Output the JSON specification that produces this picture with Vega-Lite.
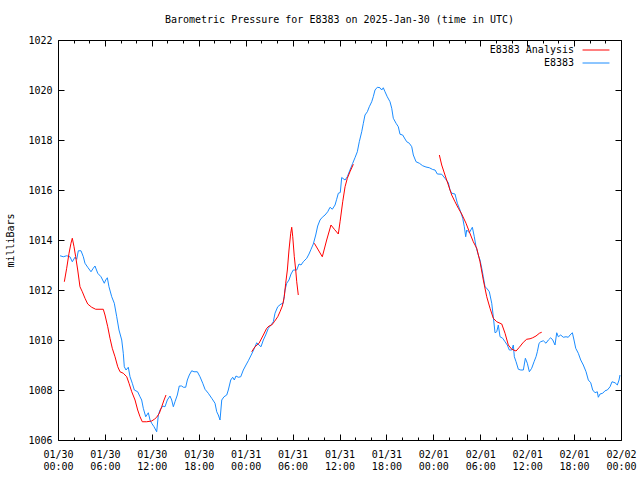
{
  "$schema": "https://vega.github.io/schema/vega-lite/v6.json",
  "width": 563,
  "height": 400,
  "autosize": "none",
  "padding": {"left": 58, "top": 40, "right": 19, "bottom": 40},
  "background": "white",
  "title": {"text": "Barometric Pressure for E8383 on 2025-Jan-30 (time in UTC)", "font": "DejaVu Sans Mono", "fontSize": 10, "fontWeight": "normal", "color": "black", "anchor": "middle", "offset": 10},
  "config": {
    "view": {"stroke": "black", "strokeWidth": 1},
    "axis": {"labelFont": "DejaVu Sans Mono", "labelFontSize": 10, "labelColor": "black", "tickColor": "black", "domain": false, "grid": false, "titleFont": "DejaVu Sans Mono", "titleFontSize": 10, "titleFontWeight": "normal", "titleColor": "black"},
    "legend": {"labelFont": "DejaVu Sans Mono", "labelFontSize": 10, "labelColor": "black"}
  },
  "data": {"values": [
    {"series":"E8383","segment":"b","hour":0.26,"mb":1013.37},
    {"series":"E8383","segment":"b","hour":0.68,"mb":1013.33},
    {"series":"E8383","segment":"b","hour":1.11,"mb":1013.37},
    {"series":"E8383","segment":"b","hour":1.53,"mb":1013.33},
    {"series":"E8383","segment":"b","hour":1.83,"mb":1013.13},
    {"series":"E8383","segment":"b","hour":2.17,"mb":1013.31},
    {"series":"E8383","segment":"b","hour":2.39,"mb":1013.23},
    {"series":"E8383","segment":"b","hour":2.60,"mb":1013.57},
    {"series":"E8383","segment":"b","hour":2.94,"mb":1013.57},
    {"series":"E8383","segment":"b","hour":3.24,"mb":1013.33},
    {"series":"E8383","segment":"b","hour":3.45,"mb":1013.07},
    {"series":"E8383","segment":"b","hour":3.80,"mb":1012.91},
    {"series":"E8383","segment":"b","hour":4.22,"mb":1012.73},
    {"series":"E8383","segment":"b","hour":4.51,"mb":1012.87},
    {"series":"E8383","segment":"b","hour":4.73,"mb":1012.96},
    {"series":"E8383","segment":"b","hour":5.08,"mb":1012.67},
    {"series":"E8383","segment":"b","hour":5.50,"mb":1012.53},
    {"series":"E8383","segment":"b","hour":5.92,"mb":1012.27},
    {"series":"E8383","segment":"b","hour":6.10,"mb":1012.40},
    {"series":"E8383","segment":"b","hour":6.31,"mb":1012.49},
    {"series":"E8383","segment":"b","hour":6.52,"mb":1012.13},
    {"series":"E8383","segment":"b","hour":6.87,"mb":1011.73},
    {"series":"E8383","segment":"b","hour":7.20,"mb":1011.47},
    {"series":"E8383","segment":"b","hour":7.51,"mb":1010.93},
    {"series":"E8383","segment":"b","hour":7.80,"mb":1010.40},
    {"series":"E8383","segment":"b","hour":8.15,"mb":1010.00},
    {"series":"E8383","segment":"b","hour":8.35,"mb":1009.47},
    {"series":"E8383","segment":"b","hour":8.48,"mb":1008.93},
    {"series":"E8383","segment":"b","hour":8.70,"mb":1008.80},
    {"series":"E8383","segment":"b","hour":8.99,"mb":1008.91},
    {"series":"E8383","segment":"b","hour":9.21,"mb":1008.53},
    {"series":"E8383","segment":"b","hour":9.50,"mb":1008.27},
    {"series":"E8383","segment":"b","hour":9.76,"mb":1008.00},
    {"series":"E8383","segment":"b","hour":10.19,"mb":1007.93},
    {"series":"E8383","segment":"b","hour":10.49,"mb":1007.73},
    {"series":"E8383","segment":"b","hour":10.70,"mb":1007.60},
    {"series":"E8383","segment":"b","hour":10.91,"mb":1007.27},
    {"series":"E8383","segment":"b","hour":11.22,"mb":1006.93},
    {"series":"E8383","segment":"b","hour":11.55,"mb":1007.09},
    {"series":"E8383","segment":"b","hour":11.77,"mb":1006.80},
    {"series":"E8383","segment":"b","hour":11.98,"mb":1006.67},
    {"series":"E8383","segment":"b","hour":12.28,"mb":1006.53},
    {"series":"E8383","segment":"b","hour":12.62,"mb":1006.33},
    {"series":"E8383","segment":"b","hour":12.83,"mb":1007.00},
    {"series":"E8383","segment":"b","hour":13.05,"mb":1007.20},
    {"series":"E8383","segment":"b","hour":13.39,"mb":1007.36},
    {"series":"E8383","segment":"b","hour":13.68,"mb":1007.33},
    {"series":"E8383","segment":"b","hour":13.98,"mb":1007.60},
    {"series":"E8383","segment":"b","hour":14.32,"mb":1007.76},
    {"series":"E8383","segment":"b","hour":14.54,"mb":1007.60},
    {"series":"E8383","segment":"b","hour":14.75,"mb":1007.33},
    {"series":"E8383","segment":"b","hour":14.96,"mb":1007.53},
    {"series":"E8383","segment":"b","hour":15.26,"mb":1007.80},
    {"series":"E8383","segment":"b","hour":15.51,"mb":1008.16},
    {"series":"E8383","segment":"b","hour":15.82,"mb":1008.16},
    {"series":"E8383","segment":"b","hour":16.03,"mb":1008.11},
    {"series":"E8383","segment":"b","hour":16.33,"mb":1008.11},
    {"series":"E8383","segment":"b","hour":16.54,"mb":1008.40},
    {"series":"E8383","segment":"b","hour":16.79,"mb":1008.60},
    {"series":"E8383","segment":"b","hour":17.10,"mb":1008.77},
    {"series":"E8383","segment":"b","hour":17.39,"mb":1008.73},
    {"series":"E8383","segment":"b","hour":17.82,"mb":1008.73},
    {"series":"E8383","segment":"b","hour":18.16,"mb":1008.53},
    {"series":"E8383","segment":"b","hour":18.51,"mb":1008.27},
    {"series":"E8383","segment":"b","hour":18.80,"mb":1008.03},
    {"series":"E8383","segment":"b","hour":19.22,"mb":1007.87},
    {"series":"E8383","segment":"b","hour":19.66,"mb":1007.67},
    {"series":"E8383","segment":"b","hour":20.08,"mb":1007.47},
    {"series":"E8383","segment":"b","hour":20.30,"mb":1007.13},
    {"series":"E8383","segment":"b","hour":20.50,"mb":1007.00},
    {"series":"E8383","segment":"b","hour":20.72,"mb":1006.80},
    {"series":"E8383","segment":"b","hour":20.94,"mb":1007.60},
    {"series":"E8383","segment":"b","hour":21.23,"mb":1007.73},
    {"series":"E8383","segment":"b","hour":21.58,"mb":1007.80},
    {"series":"E8383","segment":"b","hour":21.78,"mb":1008.00},
    {"series":"E8383","segment":"b","hour":22.09,"mb":1008.40},
    {"series":"E8383","segment":"b","hour":22.34,"mb":1008.51},
    {"series":"E8383","segment":"b","hour":22.55,"mb":1008.40},
    {"series":"E8383","segment":"b","hour":22.76,"mb":1008.56},
    {"series":"E8383","segment":"b","hour":23.06,"mb":1008.51},
    {"series":"E8383","segment":"b","hour":23.37,"mb":1008.53},
    {"series":"E8383","segment":"b","hour":23.70,"mb":1008.80},
    {"series":"E8383","segment":"b","hour":24.04,"mb":1009.00},
    {"series":"E8383","segment":"b","hour":24.34,"mb":1009.17},
    {"series":"E8383","segment":"b","hour":24.77,"mb":1009.44},
    {"series":"E8383","segment":"b","hour":25.11,"mb":1009.67},
    {"series":"E8383","segment":"b","hour":25.41,"mb":1009.89},
    {"series":"E8383","segment":"b","hour":25.71,"mb":1009.80},
    {"series":"E8383","segment":"b","hour":25.96,"mb":1009.73},
    {"series":"E8383","segment":"b","hour":26.26,"mb":1010.00},
    {"series":"E8383","segment":"b","hour":26.56,"mb":1010.20},
    {"series":"E8383","segment":"b","hour":26.90,"mb":1010.47},
    {"series":"E8383","segment":"b","hour":27.24,"mb":1010.60},
    {"series":"E8383","segment":"b","hour":27.54,"mb":1010.73},
    {"series":"E8383","segment":"b","hour":27.75,"mb":1011.07},
    {"series":"E8383","segment":"b","hour":28.10,"mb":1011.33},
    {"series":"E8383","segment":"b","hour":28.52,"mb":1011.44},
    {"series":"E8383","segment":"b","hour":28.81,"mb":1011.47},
    {"series":"E8383","segment":"b","hour":29.03,"mb":1012.00},
    {"series":"E8383","segment":"b","hour":29.25,"mb":1012.27},
    {"series":"E8383","segment":"b","hour":29.54,"mb":1012.40},
    {"series":"E8383","segment":"b","hour":29.80,"mb":1012.64},
    {"series":"E8383","segment":"b","hour":30.09,"mb":1012.80},
    {"series":"E8383","segment":"b","hour":30.53,"mb":1012.80},
    {"series":"E8383","segment":"b","hour":30.82,"mb":1013.04},
    {"series":"E8383","segment":"b","hour":31.08,"mb":1013.00},
    {"series":"E8383","segment":"b","hour":31.37,"mb":1013.13},
    {"series":"E8383","segment":"b","hour":31.81,"mb":1013.27},
    {"series":"E8383","segment":"b","hour":32.10,"mb":1013.44},
    {"series":"E8383","segment":"b","hour":32.36,"mb":1013.63},
    {"series":"E8383","segment":"b","hour":32.65,"mb":1013.84},
    {"series":"E8383","segment":"b","hour":32.96,"mb":1014.20},
    {"series":"E8383","segment":"b","hour":33.21,"mb":1014.56},
    {"series":"E8383","segment":"b","hour":33.51,"mb":1014.80},
    {"series":"E8383","segment":"b","hour":33.80,"mb":1014.91},
    {"series":"E8383","segment":"b","hour":34.15,"mb":1015.00},
    {"series":"E8383","segment":"b","hour":34.49,"mb":1015.13},
    {"series":"E8383","segment":"b","hour":34.79,"mb":1015.31},
    {"series":"E8383","segment":"b","hour":35.08,"mb":1015.23},
    {"series":"E8383","segment":"b","hour":35.43,"mb":1015.40},
    {"series":"E8383","segment":"b","hour":35.64,"mb":1015.63},
    {"series":"E8383","segment":"b","hour":35.85,"mb":1015.87},
    {"series":"E8383","segment":"b","hour":36.10,"mb":1015.90},
    {"series":"E8383","segment":"b","hour":36.28,"mb":1016.50},
    {"series":"E8383","segment":"b","hour":36.71,"mb":1016.40},
    {"series":"E8383","segment":"b","hour":37.00,"mb":1016.53},
    {"series":"E8383","segment":"b","hour":37.34,"mb":1016.80},
    {"series":"E8383","segment":"b","hour":37.69,"mb":1017.07},
    {"series":"E8383","segment":"b","hour":37.98,"mb":1017.29},
    {"series":"E8383","segment":"b","hour":38.28,"mb":1017.53},
    {"series":"E8383","segment":"b","hour":38.53,"mb":1017.93},
    {"series":"E8383","segment":"b","hour":38.84,"mb":1018.33},
    {"series":"E8383","segment":"b","hour":39.05,"mb":1018.67},
    {"series":"E8383","segment":"b","hour":39.26,"mb":1019.00},
    {"series":"E8383","segment":"b","hour":39.56,"mb":1019.13},
    {"series":"E8383","segment":"b","hour":39.81,"mb":1019.33},
    {"series":"E8383","segment":"b","hour":40.12,"mb":1019.53},
    {"series":"E8383","segment":"b","hour":40.32,"mb":1019.73},
    {"series":"E8383","segment":"b","hour":40.54,"mb":1020.00},
    {"series":"E8383","segment":"b","hour":40.84,"mb":1020.11},
    {"series":"E8383","segment":"b","hour":41.18,"mb":1020.09},
    {"series":"E8383","segment":"b","hour":41.40,"mb":1020.00},
    {"series":"E8383","segment":"b","hour":41.60,"mb":1020.09},
    {"series":"E8383","segment":"b","hour":41.82,"mb":1019.93},
    {"series":"E8383","segment":"b","hour":42.11,"mb":1019.73},
    {"series":"E8383","segment":"b","hour":42.46,"mb":1019.53},
    {"series":"E8383","segment":"b","hour":42.68,"mb":1019.27},
    {"series":"E8383","segment":"b","hour":42.88,"mb":1018.87},
    {"series":"E8383","segment":"b","hour":43.23,"mb":1018.67},
    {"series":"E8383","segment":"b","hour":43.52,"mb":1018.53},
    {"series":"E8383","segment":"b","hour":43.74,"mb":1018.23},
    {"series":"E8383","segment":"b","hour":44.08,"mb":1018.20},
    {"series":"E8383","segment":"b","hour":44.38,"mb":1018.04},
    {"series":"E8383","segment":"b","hour":44.60,"mb":1017.93},
    {"series":"E8383","segment":"b","hour":44.93,"mb":1017.87},
    {"series":"E8383","segment":"b","hour":45.24,"mb":1017.73},
    {"series":"E8383","segment":"b","hour":45.44,"mb":1017.40},
    {"series":"E8383","segment":"b","hour":45.79,"mb":1017.13},
    {"series":"E8383","segment":"b","hour":46.21,"mb":1017.07},
    {"series":"E8383","segment":"b","hour":46.64,"mb":1016.97},
    {"series":"E8383","segment":"b","hour":47.06,"mb":1016.92},
    {"series":"E8383","segment":"b","hour":47.49,"mb":1016.89},
    {"series":"E8383","segment":"b","hour":47.92,"mb":1016.82},
    {"series":"E8383","segment":"b","hour":48.22,"mb":1016.80},
    {"series":"E8383","segment":"b","hour":48.51,"mb":1016.64},
    {"series":"E8383","segment":"b","hour":49.07,"mb":1016.63},
    {"series":"E8383","segment":"b","hour":49.49,"mb":1016.47},
    {"series":"E8383","segment":"b","hour":49.92,"mb":1016.29},
    {"series":"E8383","segment":"b","hour":50.13,"mb":1016.00},
    {"series":"E8383","segment":"b","hour":50.35,"mb":1015.87},
    {"series":"E8383","segment":"b","hour":50.77,"mb":1015.84},
    {"series":"E8383","segment":"b","hour":51.07,"mb":1015.47},
    {"series":"E8383","segment":"b","hour":51.41,"mb":1015.20},
    {"series":"E8383","segment":"b","hour":51.76,"mb":1014.87},
    {"series":"E8383","segment":"b","hour":51.96,"mb":1014.53},
    {"series":"E8383","segment":"b","hour":52.14,"mb":1014.13},
    {"series":"E8383","segment":"b","hour":52.27,"mb":1014.40},
    {"series":"E8383","segment":"b","hour":52.60,"mb":1014.29},
    {"series":"E8383","segment":"b","hour":52.99,"mb":1014.51},
    {"series":"E8383","segment":"b","hour":53.24,"mb":1014.13},
    {"series":"E8383","segment":"b","hour":53.46,"mb":1013.73},
    {"series":"E8383","segment":"b","hour":53.75,"mb":1013.40},
    {"series":"E8383","segment":"b","hour":53.97,"mb":1013.20},
    {"series":"E8383","segment":"b","hour":54.19,"mb":1012.87},
    {"series":"E8383","segment":"b","hour":54.39,"mb":1012.53},
    {"series":"E8383","segment":"b","hour":54.61,"mb":1012.13},
    {"series":"E8383","segment":"b","hour":54.83,"mb":1012.07},
    {"series":"E8383","segment":"b","hour":55.16,"mb":1011.93},
    {"series":"E8383","segment":"b","hour":55.47,"mb":1011.47},
    {"series":"E8383","segment":"b","hour":55.67,"mb":1010.93},
    {"series":"E8383","segment":"b","hour":55.89,"mb":1010.29},
    {"series":"E8383","segment":"b","hour":56.11,"mb":1010.33},
    {"series":"E8383","segment":"b","hour":56.31,"mb":1010.60},
    {"series":"E8383","segment":"b","hour":56.53,"mb":1010.13},
    {"series":"E8383","segment":"b","hour":56.87,"mb":1010.07},
    {"series":"E8383","segment":"b","hour":57.17,"mb":1009.93},
    {"series":"E8383","segment":"b","hour":57.46,"mb":1009.80},
    {"series":"E8383","segment":"b","hour":57.72,"mb":1009.60},
    {"series":"E8383","segment":"b","hour":58.03,"mb":1009.60},
    {"series":"E8383","segment":"b","hour":58.23,"mb":1009.80},
    {"series":"E8383","segment":"b","hour":58.36,"mb":1009.33},
    {"series":"E8383","segment":"b","hour":58.58,"mb":1009.13},
    {"series":"E8383","segment":"b","hour":58.87,"mb":1008.83},
    {"series":"E8383","segment":"b","hour":59.18,"mb":1008.80},
    {"series":"E8383","segment":"b","hour":59.51,"mb":1008.80},
    {"series":"E8383","segment":"b","hour":59.77,"mb":1009.27},
    {"series":"E8383","segment":"b","hour":60.02,"mb":1009.07},
    {"series":"E8383","segment":"b","hour":60.28,"mb":1008.73},
    {"series":"E8383","segment":"b","hour":60.58,"mb":1008.87},
    {"series":"E8383","segment":"b","hour":60.88,"mb":1009.13},
    {"series":"E8383","segment":"b","hour":61.13,"mb":1009.33},
    {"series":"E8383","segment":"b","hour":61.30,"mb":1009.53},
    {"series":"E8383","segment":"b","hour":61.52,"mb":1009.87},
    {"series":"E8383","segment":"b","hour":61.73,"mb":1009.93},
    {"series":"E8383","segment":"b","hour":62.07,"mb":1009.97},
    {"series":"E8383","segment":"b","hour":62.41,"mb":1009.87},
    {"series":"E8383","segment":"b","hour":62.71,"mb":1010.00},
    {"series":"E8383","segment":"b","hour":63.01,"mb":1010.09},
    {"series":"E8383","segment":"b","hour":63.27,"mb":1010.00},
    {"series":"E8383","segment":"b","hour":63.56,"mb":1009.80},
    {"series":"E8383","segment":"b","hour":63.78,"mb":1010.29},
    {"series":"E8383","segment":"b","hour":63.98,"mb":1010.13},
    {"series":"E8383","segment":"b","hour":64.29,"mb":1010.20},
    {"series":"E8383","segment":"b","hour":64.62,"mb":1010.11},
    {"series":"E8383","segment":"b","hour":64.97,"mb":1010.13},
    {"series":"E8383","segment":"b","hour":65.26,"mb":1010.11},
    {"series":"E8383","segment":"b","hour":65.48,"mb":1010.20},
    {"series":"E8383","segment":"b","hour":65.78,"mb":1010.29},
    {"series":"E8383","segment":"b","hour":65.99,"mb":1010.00},
    {"series":"E8383","segment":"b","hour":66.21,"mb":1009.67},
    {"series":"E8383","segment":"b","hour":66.54,"mb":1009.47},
    {"series":"E8383","segment":"b","hour":66.85,"mb":1009.20},
    {"series":"E8383","segment":"b","hour":67.18,"mb":1009.00},
    {"series":"E8383","segment":"b","hour":67.53,"mb":1008.73},
    {"series":"E8383","segment":"b","hour":67.82,"mb":1008.40},
    {"series":"E8383","segment":"b","hour":68.13,"mb":1008.29},
    {"series":"E8383","segment":"b","hour":68.38,"mb":1008.00},
    {"series":"E8383","segment":"b","hour":68.68,"mb":1007.89},
    {"series":"E8383","segment":"b","hour":68.97,"mb":1007.93},
    {"series":"E8383","segment":"b","hour":69.10,"mb":1007.71},
    {"series":"E8383","segment":"b","hour":69.32,"mb":1007.84},
    {"series":"E8383","segment":"b","hour":69.66,"mb":1007.87},
    {"series":"E8383","segment":"b","hour":69.96,"mb":1007.97},
    {"series":"E8383","segment":"b","hour":70.25,"mb":1008.00},
    {"series":"E8383","segment":"b","hour":70.60,"mb":1008.13},
    {"series":"E8383","segment":"b","hour":70.85,"mb":1008.33},
    {"series":"E8383","segment":"b","hour":71.24,"mb":1008.29},
    {"series":"E8383","segment":"b","hour":71.53,"mb":1008.20},
    {"series":"E8383","segment":"b","hour":71.75,"mb":1008.40},
    {"series":"E8383","segment":"b","hour":71.87,"mb":1008.60},

    {"series":"E8383 Analysis","segment":"a1","hour":0.81,"mb":1012.33},
    {"series":"E8383 Analysis","segment":"a1","hour":1.11,"mb":1012.87},
    {"series":"E8383 Analysis","segment":"a1","hour":1.41,"mb":1013.47},
    {"series":"E8383 Analysis","segment":"a1","hour":1.66,"mb":1013.87},
    {"series":"E8383 Analysis","segment":"a1","hour":1.83,"mb":1014.07},
    {"series":"E8383 Analysis","segment":"a1","hour":2.05,"mb":1013.73},
    {"series":"E8383 Analysis","segment":"a1","hour":2.26,"mb":1013.33},
    {"series":"E8383 Analysis","segment":"a1","hour":2.52,"mb":1012.80},
    {"series":"E8383 Analysis","segment":"a1","hour":2.81,"mb":1012.13},
    {"series":"E8383 Analysis","segment":"a1","hour":3.11,"mb":1011.93},
    {"series":"E8383 Analysis","segment":"a1","hour":3.45,"mb":1011.67},
    {"series":"E8383 Analysis","segment":"a1","hour":3.80,"mb":1011.44},
    {"series":"E8383 Analysis","segment":"a1","hour":4.31,"mb":1011.31},
    {"series":"E8383 Analysis","segment":"a1","hour":4.82,"mb":1011.23},
    {"series":"E8383 Analysis","segment":"a1","hour":5.79,"mb":1011.23},
    {"series":"E8383 Analysis","segment":"a1","hour":6.01,"mb":1011.00},
    {"series":"E8383 Analysis","segment":"a1","hour":6.36,"mb":1010.53},
    {"series":"E8383 Analysis","segment":"a1","hour":6.65,"mb":1010.07},
    {"series":"E8383 Analysis","segment":"a1","hour":6.94,"mb":1009.67},
    {"series":"E8383 Analysis","segment":"a1","hour":7.29,"mb":1009.33},
    {"series":"E8383 Analysis","segment":"a1","hour":7.64,"mb":1008.93},
    {"series":"E8383 Analysis","segment":"a1","hour":7.93,"mb":1008.73},
    {"series":"E8383 Analysis","segment":"a1","hour":8.35,"mb":1008.67},
    {"series":"E8383 Analysis","segment":"a1","hour":8.79,"mb":1008.53},
    {"series":"E8383 Analysis","segment":"a1","hour":9.08,"mb":1008.27},
    {"series":"E8383 Analysis","segment":"a1","hour":9.43,"mb":1007.93},
    {"series":"E8383 Analysis","segment":"a1","hour":9.85,"mb":1007.60},
    {"series":"E8383 Analysis","segment":"a1","hour":10.19,"mb":1007.20},
    {"series":"E8383 Analysis","segment":"a1","hour":10.49,"mb":1006.93},
    {"series":"E8383 Analysis","segment":"a1","hour":10.78,"mb":1006.73},
    {"series":"E8383 Analysis","segment":"a1","hour":11.34,"mb":1006.73},
    {"series":"E8383 Analysis","segment":"a1","hour":11.98,"mb":1006.76},
    {"series":"E8383 Analysis","segment":"a1","hour":12.32,"mb":1006.83},
    {"series":"E8383 Analysis","segment":"a1","hour":12.62,"mb":1006.91},
    {"series":"E8383 Analysis","segment":"a1","hour":12.96,"mb":1007.07},
    {"series":"E8383 Analysis","segment":"a1","hour":13.26,"mb":1007.33},
    {"series":"E8383 Analysis","segment":"a1","hour":13.56,"mb":1007.60},
    {"series":"E8383 Analysis","segment":"a1","hour":13.81,"mb":1007.80},

    {"series":"E8383 Analysis","segment":"a2","hour":24.77,"mb":1009.53},
    {"series":"E8383 Analysis","segment":"a2","hour":25.19,"mb":1009.73},
    {"series":"E8383 Analysis","segment":"a2","hour":25.71,"mb":1009.87},
    {"series":"E8383 Analysis","segment":"a2","hour":26.26,"mb":1010.20},
    {"series":"E8383 Analysis","segment":"a2","hour":26.69,"mb":1010.47},
    {"series":"E8383 Analysis","segment":"a2","hour":26.99,"mb":1010.56},
    {"series":"E8383 Analysis","segment":"a2","hour":27.33,"mb":1010.60},
    {"series":"E8383 Analysis","segment":"a2","hour":27.66,"mb":1010.73},
    {"series":"E8383 Analysis","segment":"a2","hour":28.10,"mb":1010.93},
    {"series":"E8383 Analysis","segment":"a2","hour":28.39,"mb":1011.13},
    {"series":"E8383 Analysis","segment":"a2","hour":28.69,"mb":1011.36},
    {"series":"E8383 Analysis","segment":"a2","hour":28.94,"mb":1011.73},
    {"series":"E8383 Analysis","segment":"a2","hour":29.12,"mb":1012.27},
    {"series":"E8383 Analysis","segment":"a2","hour":29.33,"mb":1012.80},
    {"series":"E8383 Analysis","segment":"a2","hour":29.54,"mb":1013.60},
    {"series":"E8383 Analysis","segment":"a2","hour":29.76,"mb":1014.27},
    {"series":"E8383 Analysis","segment":"a2","hour":29.89,"mb":1014.51},
    {"series":"E8383 Analysis","segment":"a2","hour":30.02,"mb":1014.13},
    {"series":"E8383 Analysis","segment":"a2","hour":30.22,"mb":1013.33},
    {"series":"E8383 Analysis","segment":"a2","hour":30.40,"mb":1012.80},
    {"series":"E8383 Analysis","segment":"a2","hour":30.53,"mb":1012.33},
    {"series":"E8383 Analysis","segment":"a2","hour":30.73,"mb":1011.80},

    {"series":"E8383 Analysis","segment":"a3","hour":32.78,"mb":1013.87},
    {"series":"E8383 Analysis","segment":"a3","hour":33.29,"mb":1013.60},
    {"series":"E8383 Analysis","segment":"a3","hour":33.80,"mb":1013.33},
    {"series":"E8383 Analysis","segment":"a3","hour":34.36,"mb":1014.00},
    {"series":"E8383 Analysis","segment":"a3","hour":34.91,"mb":1014.60},
    {"series":"E8383 Analysis","segment":"a3","hour":35.34,"mb":1014.43},
    {"series":"E8383 Analysis","segment":"a3","hour":35.85,"mb":1014.24},
    {"series":"E8383 Analysis","segment":"a3","hour":36.07,"mb":1014.73},
    {"series":"E8383 Analysis","segment":"a3","hour":36.41,"mb":1015.53},
    {"series":"E8383 Analysis","segment":"a3","hour":36.71,"mb":1016.13},
    {"series":"E8383 Analysis","segment":"a3","hour":37.00,"mb":1016.47},
    {"series":"E8383 Analysis","segment":"a3","hour":37.34,"mb":1016.73},
    {"series":"E8383 Analysis","segment":"a3","hour":37.77,"mb":1017.03},

    {"series":"E8383 Analysis","segment":"a4","hour":48.77,"mb":1017.40},
    {"series":"E8383 Analysis","segment":"a4","hour":49.07,"mb":1017.00},
    {"series":"E8383 Analysis","segment":"a4","hour":49.49,"mb":1016.60},
    {"series":"E8383 Analysis","segment":"a4","hour":49.92,"mb":1016.20},
    {"series":"E8383 Analysis","segment":"a4","hour":50.35,"mb":1015.80},
    {"series":"E8383 Analysis","segment":"a4","hour":50.77,"mb":1015.53},
    {"series":"E8383 Analysis","segment":"a4","hour":51.20,"mb":1015.27},
    {"series":"E8383 Analysis","segment":"a4","hour":51.63,"mb":1015.04},
    {"series":"E8383 Analysis","segment":"a4","hour":52.18,"mb":1014.67},
    {"series":"E8383 Analysis","segment":"a4","hour":52.60,"mb":1014.33},
    {"series":"E8383 Analysis","segment":"a4","hour":53.11,"mb":1013.93},
    {"series":"E8383 Analysis","segment":"a4","hour":53.55,"mb":1013.67},
    {"series":"E8383 Analysis","segment":"a4","hour":53.97,"mb":1013.13},
    {"series":"E8383 Analysis","segment":"a4","hour":54.39,"mb":1012.40},
    {"series":"E8383 Analysis","segment":"a4","hour":54.83,"mb":1011.73},
    {"series":"E8383 Analysis","segment":"a4","hour":55.25,"mb":1011.27},
    {"series":"E8383 Analysis","segment":"a4","hour":55.67,"mb":1010.87},
    {"series":"E8383 Analysis","segment":"a4","hour":56.11,"mb":1010.73},
    {"series":"E8383 Analysis","segment":"a4","hour":56.75,"mb":1010.64},
    {"series":"E8383 Analysis","segment":"a4","hour":57.17,"mb":1010.27},
    {"series":"E8383 Analysis","segment":"a4","hour":57.59,"mb":1009.80},
    {"series":"E8383 Analysis","segment":"a4","hour":58.03,"mb":1009.63},
    {"series":"E8383 Analysis","segment":"a4","hour":58.58,"mb":1009.56},
    {"series":"E8383 Analysis","segment":"a4","hour":59.00,"mb":1009.71},
    {"series":"E8383 Analysis","segment":"a4","hour":59.51,"mb":1009.91},
    {"series":"E8383 Analysis","segment":"a4","hour":59.94,"mb":1010.03},
    {"series":"E8383 Analysis","segment":"a4","hour":60.37,"mb":1010.05},
    {"series":"E8383 Analysis","segment":"a4","hour":60.71,"mb":1010.09},
    {"series":"E8383 Analysis","segment":"a4","hour":61.13,"mb":1010.16},
    {"series":"E8383 Analysis","segment":"a4","hour":61.56,"mb":1010.27},
    {"series":"E8383 Analysis","segment":"a4","hour":61.86,"mb":1010.31}
  ]},
  "resolve": {"axis": {"x": "independent", "y": "independent"}},
  "layer": [
    {
      "mark": {"type": "line", "strokeWidth": 1, "clip": true},
      "encoding": {
        "x": {"field": "hour", "type": "quantitative", "scale": {"domain": [0, 72], "nice": false, "zero": false},
              "axis": {"orient": "bottom", "title": null, "values": [0,6,12,18,24,30,36,42,48,54,60,66,72], "tickSize": -6, "labelPadding": 15, "labelLineHeight": 12, "labelFlush": false, "labelOverlap": false,
                       "labelExpr": "[utcFormat(utc(2025,0,30) + datum.value*3600000, '%m/%d'), utcFormat(utc(2025,0,30) + datum.value*3600000, '%H:%M')]"}},
        "y": {"field": "mb", "type": "quantitative", "scale": {"domain": [1006, 1022], "nice": false, "zero": false},
              "axis": {"orient": "left", "title": "milliBars", "format": "d", "values": [1006,1008,1010,1012,1014,1016,1018,1020,1022], "tickSize": -6, "labelPadding": 12, "labelFlush": false, "labelOverlap": false, "titleX": -48, "titleY": 200, "titleAngle": -90, "titleAlign": "center", "titleBaseline": "middle"}},
        "color": {"field": "series", "type": "nominal",
                  "scale": {"domain": ["E8383 Analysis", "E8383"], "range": ["#ff0000", "#1a8cff"]},
                  "legend": {"title": null, "orient": "none", "legendX": 533, "legendY": 5, "symbolType": "M-5,0H5", "symbolSize": 29, "symbolStrokeWidth": 1, "labelAlign": "right", "labelOffset": -27, "rowPadding": 3, "padding": 0}},
        "detail": {"field": "segment", "type": "nominal"}
      }
    },
    {
      "mark": {"type": "point", "opacity": 0, "size": 0},
      "encoding": {
        "x": {"field": "hour", "type": "quantitative", "axis": {"orient": "top", "title": null, "labels": false, "values": [0,6,12,18,24,30,36,42,48,54,60,66,72], "tickSize": -6}},
        "y": {"field": "mb", "type": "quantitative", "axis": {"orient": "right", "title": null, "labels": false, "values": [1006,1008,1010,1012,1014,1016,1018,1020,1022], "tickSize": -6}}
      }
    },
    {
      "mark": {"type": "point", "opacity": 0, "size": 0},
      "encoding": {
        "x": {"field": "hour", "type": "quantitative", "axis": {"orient": "bottom", "title": null, "labels": false, "values": [2,4,8,10,14,16,20,22,26,28,32,34,38,40,44,46,50,52,56,58,62,64,68,70], "tickSize": -3}},
        "y": {"field": "mb", "type": "quantitative", "axis": null}
      }
    },
    {
      "mark": {"type": "point", "opacity": 0, "size": 0},
      "encoding": {
        "x": {"field": "hour", "type": "quantitative", "axis": {"orient": "top", "title": null, "labels": false, "values": [2,4,8,10,14,16,20,22,26,28,32,34,38,40,44,46,50,52,56,58,62,64,68,70], "tickSize": -3}},
        "y": {"field": "mb", "type": "quantitative", "axis": null}
      }
    }
  ]
}
